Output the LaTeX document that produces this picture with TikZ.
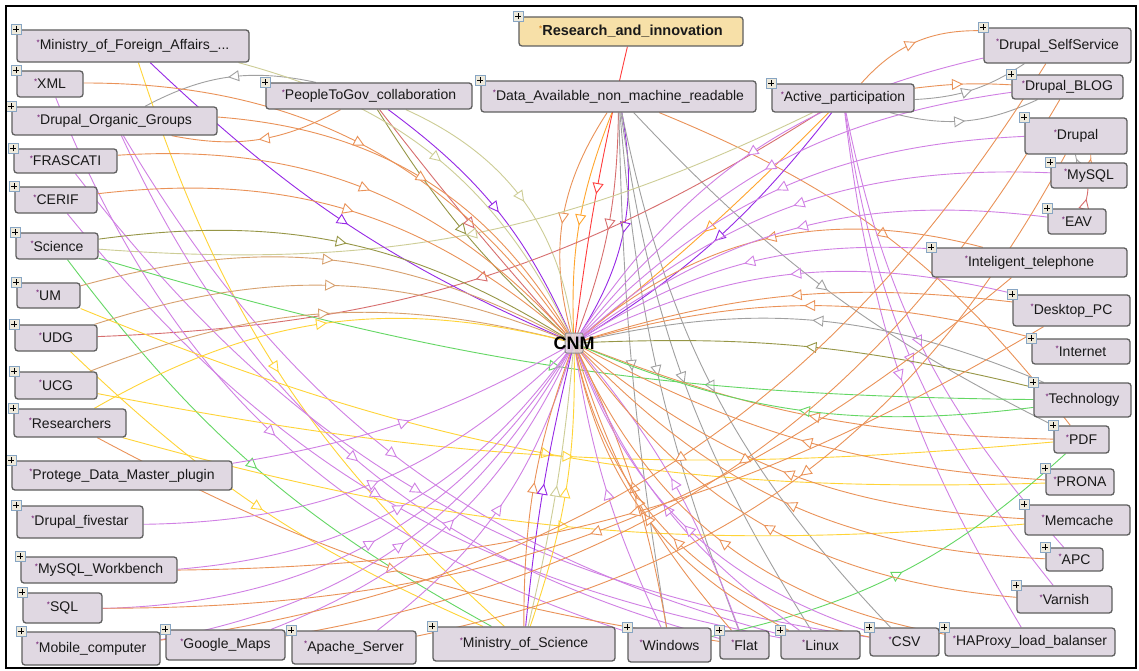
\documentclass[tikz,border=0pt]{standalone}
\usepackage{fontspec}
\setmainfont{Liberation Sans}
\usetikzlibrary{arrows.meta,decorations.markings}
\pgfdeclarelayer{bg}
\pgfdeclarelayer{edges}
\pgfsetlayers{bg,edges,main}

% class boxes
\definecolor{clsfill}{RGB}{224,216,226}
\definecolor{clsdraw}{RGB}{95,95,95}
\definecolor{hubfill}{RGB}{247,224,168}
\definecolor{plusfill}{RGB}{238,234,220}
\definecolor{plusdraw}{RGB}{135,165,195}
\definecolor{astc}{RGB}{110,20,110}
\definecolor{asto}{RGB}{220,140,40}
\definecolor{txt}{RGB}{25,25,25}
% relation colours
\definecolor{eOr}{RGB}{234,146,88}
\definecolor{eTan}{RGB}{215,160,110}
\definecolor{eOb}{RGB}{255,165,45}
\definecolor{ePu}{RGB}{208,128,228}
\definecolor{eVi}{RGB}{150,40,230}
\definecolor{eYe}{RGB}{255,212,55}
\definecolor{eGr}{RGB}{100,215,100}
\definecolor{eOl}{RGB}{150,150,70}
\definecolor{eOlL}{RGB}{205,205,150}
\definecolor{eGy}{RGB}{160,160,160}
\definecolor{eRd}{RGB}{255,60,60}
\definecolor{eRo}{RGB}{215,110,110}

\newcommand\clsmark[1]{\textcolor{#1}{\raisebox{0.6ex}{\fontsize{8}{8}\selectfont*}}}

\tikzset{
  cls/.style={draw=clsdraw, fill=clsfill, line width=1.3pt, rounded corners=3pt,
    inner sep=0pt, text=txt, font=\fontsize{14}{16}\selectfont},
  hub/.style={cls, fill=hubfill, font=\bfseries\fontsize{14.5}{16}\selectfont},
  plusbox/.style={draw=plusdraw, fill=plusfill, line width=0.9pt, minimum size=10pt,
    inner sep=0pt, rounded corners=0pt,
    path picture={\draw[black, line width=1.2pt]
      ([xshift=-3pt]path picture bounding box.center) -- ([xshift=3pt]path picture bounding box.center)
      ([yshift=-3pt]path picture bounding box.center) -- ([yshift=3pt]path picture bounding box.center);}},
  rel/.style={draw=#1, line width=0.9pt, postaction={decorate},
    decoration={markings, mark=at position 0.5 with
      {\arrow[color=#1, line width=0.9pt]{Triangle[open, fill=white, length=11pt, width=11pt]}}}},
}

% name, x1, y1, x2, y2, label
\newcommand\onto[6]{%
  \node[cls, minimum width={#4-#2}, minimum height={#5-#3}] (#1) at ({(#2+#4)/2},{(#3+#5)/2}) {\clsmark{astc}#6};
  \node[plusbox] (#1-plus) at (#1.north west) {};
}

\begin{document}
\begin{tikzpicture}[x=1pt, y=-1pt]
\useasboundingbox (0,0) rectangle (1139,671);
\begin{pgfonlayer}{bg}
  \fill[white] (0,0) rectangle (1139,671);
\end{pgfonlayer}

% centre
\node[draw=clsdraw!70, fill=clsfill, fill opacity=0.8, line width=1pt, rounded corners=2pt,
  minimum width=18pt, minimum height=20pt, inner sep=0pt] (cnm) at (574,343) {};
\node[font=\bfseries\fontsize{18}{20}\selectfont, text=black, inner sep=0pt] (cnmlabel) at (cnm.center) {CNM};

% top row
\node[hub, minimum width=224pt, minimum height=29pt] (rai) at (631,31.5) {\clsmark{asto}Research\_and\_innovation};
\node[plusbox] (rai-plus) at (rai.north west) {};
\onto{pgc}{266}{83}{472}{109}{PeopleToGov\_collaboration}
\onto{dan}{481}{81}{756}{112}{Data\_Available\_non\_machine\_readable}
\onto{act}{772}{84}{914}{112}{Active\_participation}

% left column
\onto{mfa}{17}{30}{249}{62}{Ministry\_of\_Foreign\_Affairs\_...}
\onto{xml}{17}{71}{83}{97}{XML}
\onto{dog}{12}{107}{217}{135}{Drupal\_Organic\_Groups}
\onto{fra}{14}{149}{117}{173}{FRASCATI}
\onto{cer}{15}{187}{97}{213}{CERIF}
\onto{sci}{16}{233}{98}{259}{Science}
\onto{um}{17}{283}{80}{308}{UM}
\onto{udg}{15}{325}{97}{351}{UDG}
\onto{ucg}{15}{372}{97}{399}{UCG}
\onto{res}{14}{409}{126}{437}{Researchers}
\onto{pro}{12}{461}{232}{490}{Protege\_Data\_Master\_plugin}
\onto{dfs}{17}{506}{143}{538}{Drupal\_fivestar}
\onto{mwb}{21}{557}{177}{583}{MySQL\_Workbench}
\onto{sql}{23}{593}{102}{623}{SQL}

% bottom row
\onto{mob}{22}{632}{160}{665}{Mobile\_computer}
\onto{gmp}{166}{630}{285}{660}{Google\_Maps}
\onto{aps}{292}{631}{416}{664}{Apache\_Server}
\onto{mos}{433}{627}{615}{661}{Ministry\_of\_Science}
\onto{win}{628}{628}{711}{662}{Windows}
\onto{flt}{720}{631}{769}{659}{Flat}
\onto{lin}{781}{631}{860}{659}{Linux}
\onto{csv}{870}{628}{939}{656}{CSV}
\onto{hap}{945}{628}{1115}{656}{HAProxy\_load\_balanser}

% right column
\onto{dss}{984}{28}{1131}{63}{Drupal\_SelfService}
\onto{dbl}{1012}{75}{1123}{99}{Drupal\_BLOG}
\onto{dru}{1025}{118}{1127}{154}{Drupal}
\onto{mys}{1051}{163}{1127}{188}{MySQL}
\onto{eav}{1048}{209}{1106}{234}{EAV}
\onto{itl}{932}{248}{1127}{277}{Inteligent\_telephone}
\onto{dpc}{1013}{295}{1130}{326}{Desktop\_PC}
\onto{int}{1032}{339}{1130}{364}{Internet}
\onto{tec}{1034}{383}{1131}{417}{Technology}
\onto{pdf}{1054}{426}{1109}{453}{PDF}
\onto{prn}{1046}{469}{1114}{495}{PRONA}
\onto{mem}{1025}{505}{1130}{535}{Memcache}
\onto{apc}{1046}{548}{1103}{571}{APC}
\onto{var}{1017}{586}{1112}{613}{Varnish}

\begin{pgfonlayer}{edges}
% from the top hubs
\draw[rel=eRd]  (rai) to[bend right=3] (cnm.center);
\draw[rel=eRo]  (dan) to[bend left=10] (cnm.center);
\draw[rel=eOb]  (dan) to[bend right=12] (cnm.center);
\draw[rel=eVi]  (dan) to[bend left=22] (cnm.center);
\draw[rel=eOr]  (dan) to[bend right=25] (cnm.center);
\draw[rel=eGy]  (dan) to[bend right=4] (win);
\draw[rel=eGy]  (dan) to[bend right=8] (flt);
\draw[rel=eGy]  (dan) to[bend right=12] (lin);
\draw[rel=eGy]  (dan) to[bend right=16] (csv);
\draw[rel=eGy]  (dan) to[bend right=10] (pdf);
\draw[rel=eOr]  (dan) to[bend left=15] (pdf);
\draw[rel=eVi]  (pgc) to[bend left=15] (cnm.center);
\draw[rel=eOl]  (pgc) to[bend right=8] (cnm.center);
\draw[rel=eRo]  (pgc) to[bend right=2] (cnm.center);
\draw[rel=eOlL] (pgc) to[bend left=30] (cnm.center);
\draw[rel=eGy]  (pgc) to[bend right=20] (dog);
\draw[rel=eOr]  (pgc) to[bend left=20] (dog);
\draw[rel=eVi]  (act) to[bend left=10] (cnm.center);
\draw[rel=eOb]  (act) to[bend left=3] (cnm.center);
\draw[rel=eOlL] (act) to[bend left=15] (sci);
\draw[rel=eRo]  (act) to[bend left=15] (udg);
\draw[rel=ePu]  (act) to[bend right=15] (apc);
\draw[rel=ePu]  (act) to[bend right=15] (var);
\draw[rel=ePu]  (act) to[bend right=12] (hap);
\draw[rel=eGy]  (act) to[bend right=15] (dss);
\draw[rel=eOr]  (act) to[bend left=25] (dss);
\draw[rel=eGy]  (act) to[bend right=20] (dbl);
\draw[rel=eOr]  (act) to[bend left=5] (dbl);
% left column
\draw[rel=eVi]  (mfa) to[bend right=10] (cnm.center);
\draw[rel=eYe]  (mfa) to[bend right=15] (mos);
\draw[rel=eOlL] (mfa) to[bend left=25] (cnm.center);
\draw[rel=eOr]  (xml) to[bend left=28] (cnm.center);
\draw[rel=ePu]  (xml) to[bend right=25] (win);
\draw[rel=eOr]  (dog) to[bend left=28] (cnm.center);
\draw[rel=ePu]  (dog) to[bend right=25] (flt);
\draw[rel=ePu]  (dog) to[bend right=22] (lin);
\draw[rel=eOr]  (fra) to[bend left=26] (cnm.center);
\draw[rel=ePu]  (fra) to[bend right=22] (csv);
\draw[rel=eOr]  (cer) to[bend left=24] (cnm.center);
\draw[rel=ePu]  (cer) to[bend right=20] (lin);
\draw[rel=eOl]  (sci) to[bend left=20] (cnm.center);
\draw[rel=eGr]  (sci) to[bend right=12] (mos);
\draw[rel=eGr]  (sci) to[bend right=8] (tec);
\draw[rel=eTan] (um) to[bend left=22] (cnm.center);
\draw[rel=eYe]  (um) to[bend right=12] (prn);
\draw[rel=eTan] (udg) to[bend left=20] (cnm.center);
\draw[rel=eYe]  (udg) to[bend right=10] (mos);
\draw[rel=eTan] (ucg) to[bend left=18] (cnm.center);
\draw[rel=eYe]  (ucg) to[bend right=8] (pdf);
\draw[rel=eYe]  (res) to[bend left=22] (cnm.center);
\draw[rel=eYe]  (res) to[bend right=10] (mem);
\draw[rel=eOr]  (res) to[bend right=10] (flt);
\draw[rel=ePu]  (pro) to[bend right=10] (cnm.center);
\draw[rel=ePu]  (dfs) to[bend right=22] (cnm.center);
\draw[rel=ePu]  (mwb) to[bend right=25] (cnm.center);
\draw[rel=ePu]  (sql) to[bend right=28] (cnm.center);
% bottom row
\draw[rel=ePu]  (mob) to[bend right=25] (cnm.center);
\draw[rel=ePu]  (gmp) to[bend right=22] (cnm.center);
\draw[rel=ePu]  (aps) to[bend right=18] (cnm.center);
\draw[rel=eOr]  (mos) to[bend left=10] (cnm.center);
\draw[rel=eYe]  (mos) to[bend right=10] (cnm.center);
\draw[rel=eVi]  (mos) to[bend left=4] (cnm.center);
\draw[rel=eOlL] (mos) to[bend right=4] (cnm.center);
\draw[rel=eGr]  (win) to[bend right=15] (pdf);
\draw[rel=ePu]  (win) to[bend left=8] (cnm.center);
\draw[rel=eOr]  (win) to[bend right=8] (cnm.center);
\draw[rel=ePu]  (flt) to[bend right=10] (cnm.center);
\draw[rel=eOr]  (flt) to[bend left=12] (cnm.center);
\draw[rel=ePu]  (lin) to[bend left=16] (cnm.center);
\draw[rel=eOr]  (lin) to[bend left=26] (cnm.center);
\draw[rel=ePu]  (csv) to[bend left=26] (cnm.center);
\draw[rel=eOr]  (csv) to[bend left=34] (cnm.center);
\draw[rel=eOr]  (hap) to[bend left=28] (cnm.center);
% right column
\draw[rel=eOr]  (var) to[bend left=25] (cnm.center);
\draw[rel=eOr]  (apc) to[bend left=22] (cnm.center);
\draw[rel=eOr]  (mem) to[bend left=18] (cnm.center);
\draw[rel=eOr]  (prn) to[bend left=12] (cnm.center);
\draw[rel=eOr]  (pdf) to[bend left=10] (cnm.center);
\draw[rel=eOl]  (tec) to[bend right=8] (cnm.center);
\draw[rel=eGy]  (tec) to[bend right=18] (cnm.center);
\draw[rel=eGr]  (tec) to[bend left=15] (cnm.center);
\draw[rel=eOr]  (int) to[bend right=15] (cnm.center);
\draw[rel=ePu]  (dpc) to[bend right=20] (cnm.center);
\draw[rel=eOr]  (dpc) to[bend right=12] (cnm.center);
\draw[rel=ePu]  (itl) to[bend right=18] (cnm.center);
\draw[rel=eOr]  (itl) to[bend right=28] (cnm.center);
\draw[rel=ePu]  (eav) to[bend right=22] (cnm.center);
\draw[rel=ePu]  (mys) to[bend right=22] (cnm.center);
\draw[rel=ePu]  (dru) to[bend right=22] (cnm.center);
\draw[rel=ePu]  (dbl) to[bend right=22] (cnm.center);
\draw[rel=ePu]  (dss) to[bend right=22] (cnm.center);
\draw[rel=eOr]  (dss) to[bend left=25] (mob);
\draw[rel=eOr]  (dbl) to[bend left=25] (gmp);
\draw[rel=eOr]  (dru) to[bend left=25] (aps);
\draw[rel=eOr]  (itl) to[bend left=20] (sql);
\draw[rel=eOr]  (dpc) to[bend left=15] (mwb);
\draw[rel=eGy]  (mys) to[bend left=20] (dru);
\draw[rel=eOr]  (mys) to[bend right=20] (dru);
\draw[rel=eRo]  (eav) to[bend right=10] (mys);
\end{pgfonlayer}

% frame
\draw[line width=2.5pt] (6,6) rectangle (1136,668);
\end{tikzpicture}
\end{document}
